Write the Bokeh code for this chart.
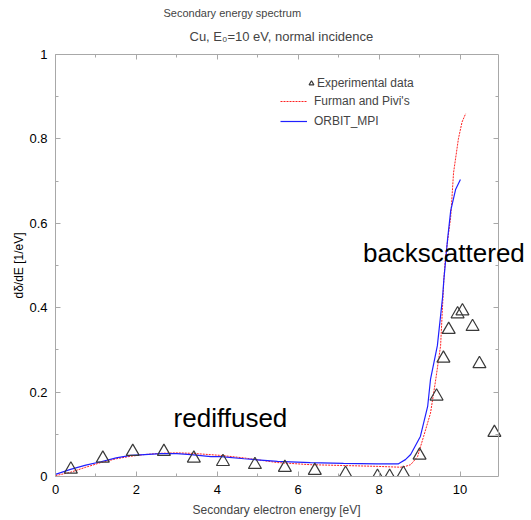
from bokeh.plotting import figure
from bokeh.models import LinearAxis, Title, Legend, LegendItem, Range1d, FixedTicker, Label
from bokeh.embed import file_html
from bokeh.resources import INLINE

# Experimental data (triangles)
exp_x = [0.38, 1.17, 1.91, 2.68, 3.42, 4.14, 4.93, 5.67, 6.41, 7.17, 7.96, 8.26, 8.60,
         9.00, 9.42, 9.59, 9.72, 9.94, 10.06, 10.31, 10.48, 10.85]
exp_y = [0.017, 0.043, 0.059, 0.059, 0.043, 0.035, 0.028, 0.021, 0.014, 0.007, 0.0, 0.0, 0.007,
         0.050, 0.190, 0.280, 0.348, 0.385, 0.392, 0.355, 0.267, 0.104]

# Furman and Pivi's model
fp_x = [0.0, 0.37, 0.75, 1.12, 1.5, 1.86, 2.2, 2.6, 3.0, 3.35, 4.09, 4.66, 5.49, 6.3, 7.12,
        7.95, 8.53, 8.65, 8.78, 8.95, 9.1, 9.27, 9.4, 9.52, 9.6, 9.64, 9.77, 9.84, 9.96, 10.05, 10.14]
fp_y = [0.002, 0.010, 0.022, 0.033, 0.042, 0.048, 0.052, 0.055, 0.056, 0.055, 0.050, 0.044, 0.033,
        0.028, 0.026, 0.024, 0.022, 0.024, 0.028, 0.047, 0.095, 0.150, 0.230, 0.310, 0.466, 0.520,
        0.615, 0.720, 0.800, 0.840, 0.860]

# ORBIT_MPI
om_x = [0.0, 0.37, 0.75, 1.12, 1.5, 1.86, 2.2, 2.6, 3.0, 3.35, 3.84, 4.09, 4.66, 5.49, 6.3,
        7.12, 7.95, 8.48, 8.53, 8.65, 8.78, 9.02, 9.2, 9.27, 9.44, 9.57, 9.6, 9.69, 9.77, 9.89, 10.01]
om_y = [0.005, 0.017, 0.027, 0.035, 0.044, 0.050, 0.052, 0.054, 0.054, 0.052, 0.047, 0.047, 0.042,
        0.036, 0.033, 0.031, 0.030, 0.030, 0.033, 0.040, 0.052, 0.095, 0.166, 0.230, 0.310, 0.426,
        0.466, 0.560, 0.630, 0.680, 0.704]

x_ticks = [0, 2, 4, 6, 8, 10]
x_tick_labels = ["0", "2", "4", "6", "8", "10"]
x_minor = [1, 3, 5, 7, 9]
y_ticks = [0, 0.2, 0.4, 0.6, 0.8, 1]
y_tick_labels = ["0", "0.2", "0.4", "0.6", "0.8", "1"]
y_minor = [0.1, 0.3, 0.5, 0.7, 0.9]
X_MAX = 10.95  # right edge of the drawn box

FONT = "Liberation Sans"
GRAY = "#a8a8a8"

p = figure(width=531, height=520, output_backend="svg", toolbar_location=None, title=None,
           x_range=Range1d(0, 11.767), y_range=Range1d(0, 1),
           min_border_left=55, min_border_right=0, min_border_top=54, min_border_bottom=43,
           y_axis_label="dδ/dE [1/eV]")
p.grid.visible = False
p.outline_line_color = None
p.background_fill_color = "white"
p.border_fill_color = "white"

def style_axis(ax, ticks, minor, labels, show_labels=True):
    ax.ticker = FixedTicker(ticks=ticks, minor_ticks=minor)
    ax.axis_line_color = GRAY
    ax.major_tick_line_color = GRAY
    ax.minor_tick_line_color = GRAY
    ax.major_tick_in = 5
    ax.major_tick_out = 0
    ax.minor_tick_in = 3
    ax.minor_tick_out = 0
    ax.major_label_overrides = {t: l for t, l in zip(ticks, labels)}
    ax.major_label_text_font = FONT
    if show_labels:
        ax.major_label_text_font_size = "13px"
        ax.major_label_text_color = "black"
    else:
        ax.major_label_text_font_size = "1px"
        ax.major_label_text_color = None
        ax.major_label_standoff = 0
    ax.axis_label_text_font = FONT
    ax.axis_label_text_font_size = "12px"
    ax.axis_label_text_font_style = "normal"
    ax.axis_label_text_color = "black"

style_axis(p.xaxis[0], x_ticks, x_minor, x_tick_labels)
p.xaxis[0].bounds = (0, X_MAX)
p.xaxis[0].major_label_standoff = 8
style_axis(p.yaxis[0], y_ticks, y_minor, y_tick_labels)
p.yaxis[0].major_label_standoff = 8
p.yaxis[0].axis_label_standoff = 0

ax_top = LinearAxis(bounds=(0, X_MAX))
style_axis(ax_top, x_ticks, x_minor, x_tick_labels, show_labels=False)
p.add_layout(ax_top, "above")

ax_right = LinearAxis(fixed_location=X_MAX)
style_axis(ax_right, y_ticks, y_minor, y_tick_labels, show_labels=False)
p.add_layout(ax_right, "right")

p.add_layout(Title(text="Cu, E₀=10 eV, normal incidence", align="left", offset=134, text_font=FONT,
                   text_font_size="13px", text_font_style="normal", standoff=22), "above")
p.add_layout(Title(text="Secondary energy spectrum", align="left", offset=108, text_font=FONT,
                   text_font_size="11px", text_font_style="normal", standoff=-6), "above")
p.add_layout(Title(text="Secondary electron energy [eV]", align="left", offset=137, text_font=FONT,
                   text_font_size="12px", text_font_style="normal", standoff=8), "below")

r_fp = p.line(fp_x, fp_y, line_color="#ff2020", line_width=1, line_dash="2 1")
r_om = p.line(om_x, om_y, line_color="#2020ff", line_width=1.2)
r_exp = p.scatter(exp_x, exp_y, marker="triangle", size=13, fill_color=None,
                  line_color="#3a3a3a", line_width=1.2)

p.add_layout(Label(x=2.92, y=0.104, text="rediffused", text_font=FONT, text_font_size="26px",
                   text_color="black"))
p.add_layout(Label(x=7.6, y=0.494, text="backscattered",
                   text_font=FONT, text_font_size="26px", text_color="black"))

leg1 = Legend(items=[LegendItem(label="Experimental data", renderers=[r_exp])],
              location=(250, 383), glyph_width=12, glyph_height=20, label_height=20,
              label_standoff=0, padding=0, margin=0, spacing=0,
              border_line_color=None, background_fill_alpha=0,
              label_text_font=FONT, label_text_font_size="12px")
leg2 = Legend(items=[LegendItem(label="Furman and Pivi's", renderers=[r_fp]),
                     LegendItem(label="ORBIT_MPI", renderers=[r_om])],
              location=(225, 345), glyph_width=27, glyph_height=20, label_height=20,
              label_standoff=7, padding=0, margin=0, spacing=0,
              border_line_color=None, background_fill_alpha=0,
              label_text_font=FONT, label_text_font_size="12px")
p.add_layout(leg1, "center")
p.add_layout(leg2, "center")

open("out.html", "w").write(file_html(p, INLINE))
